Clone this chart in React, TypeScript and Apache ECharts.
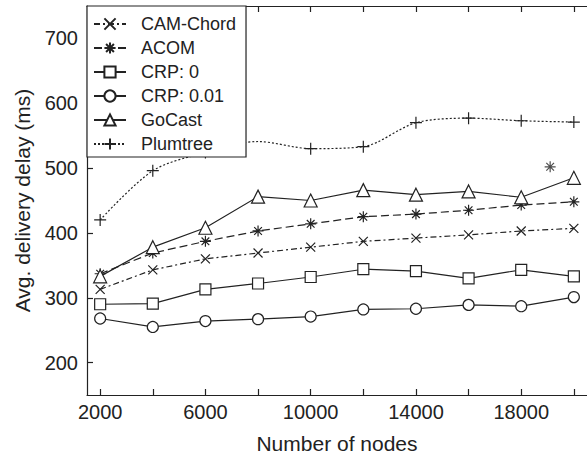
import React, { useEffect, useRef } from "react";
import * as echarts from "echarts";

const nodes = [2000, 4000, 6000, 8000, 10000, 12000, 14000, 16000, 18000, 20000];
const camChord = [313, 343, 360, 369, 378, 387, 392, 397, 403, 407];
const acom = [337, 369, 387, 403, 414, 425, 429, 435, 443, 448];
const crp0 = [290, 291, 313, 322, 332, 344, 341, 330, 343, 333];
const crp001 = [268, 255, 264, 267, 271, 282, 283, 289, 287, 301];
const goCast = [333, 378, 408, 456, 450, 466, 459, 464, 455, 485];
const plumtree = [420, 496, 524, 541, 530, 533, 570, 577, 573, 571];
const plumtreeMarked = [true, true, true, false, true, true, true, true, true, true];
const acomStrayX = [19100];
const acomStrayY = [502];

const xTicks = [2000, 4000, 6000, 8000, 10000, 12000, 14000, 16000, 18000, 20000];
const xLabels = [2000, 6000, 10000, 14000, 18000];
const yLabels = [200, 300, 400, 500, 600, 700];

const INK = "#222";
const FONT = "'Liberation Sans', Arial, Helvetica, sans-serif";

const SYM_X = "path://M0,0L10,10M10,0L0,10";
const SYM_STAR = "path://M5,0L5,10M0,5L10,5M1.5,1.5L8.5,8.5M8.5,1.5L1.5,8.5";
const SYM_PLUS = "path://M5,0L5,10M0,5L10,5";

function pairs(ys: number[]) {
  return nodes.map((x, i) => [x, ys[i]]);
}

export default function App() {
  const ref = useRef<HTMLDivElement>(null);
  useEffect(() => {
    document.body.style.margin = "0";
    if (!ref.current) return;
    const chart = echarts.init(ref.current, null, { renderer: "svg" });

    const base = (name: string, ys: number[], symbol: string, size: number, dash: any) => ({
      name,
      type: "line",
      xAxisIndex: 0,
      yAxisIndex: 0,
      data: pairs(ys),
      symbol,
      symbolSize: size,
      showAllSymbol: true,
      color: INK,
      lineStyle: { color: INK, width: 1.2, type: dash },
      itemStyle: { color: "#fff", borderColor: INK, borderWidth: 1.2 },
      emphasis: { disabled: true },
      z: 2,
    });

    const plumData = nodes.map((x, i) =>
      plumtreeMarked[i] ? [x, plumtree[i]] : { value: [x, plumtree[i]], symbol: "none" }
    );

    const xAxisCommon = {
      type: "value",
      min: 1500,
      max: 20500,
      splitLine: { show: false },
      axisLine: { show: true, lineStyle: { color: INK, width: 1.2 } },
      axisTick: {
        show: true,
        inside: true,
        length: 6,
        customValues: xTicks,
        lineStyle: { color: INK, width: 1.2 },
      },
    };

    chart.setOption({
      animation: false,
      backgroundColor: "#fff",
      textStyle: { fontFamily: FONT, color: INK },
      grid: { left: 87, top: 6, width: 506, height: 393, containLabel: false },
      legend: {
        data: ["CAM-Chord", "ACOM", "CRP: 0", "CRP: 0.01", "GoCast", "Plumtree"],
        orient: "vertical",
        left: 87,
        top: 6,
        padding: [8, 10, 3, 6],
        itemWidth: 32,
        itemHeight: 14,
        itemGap: 4,
        backgroundColor: "#fff",
        borderColor: INK,
        borderWidth: 1.2,
        borderRadius: 0,
        selectedMode: false,
        textStyle: {
          fontFamily: FONT,
          fontSize: 18,
          color: INK,
          lineHeight: 20,
          padding: [0, 0, 0, 10],
        },
        z: 10,
      },
      xAxis: [
        {
          ...xAxisCommon,
          position: "bottom",
          name: "Number of nodes",
          nameLocation: "middle",
          nameGap: 38,
          nameTextStyle: { fontFamily: FONT, fontSize: 21, color: INK },
          axisLabel: {
            show: true,
            customValues: xLabels,
            margin: 7,
            fontFamily: FONT,
            fontSize: 20,
            color: INK,
            formatter: (v: number) => String(v),
          },
        },
        {
          ...xAxisCommon,
          position: "top",
          axisLabel: { show: false },
        },
      ],
      yAxis: [
        {
          type: "value",
          min: 150,
          max: 750,
          position: "left",
          splitLine: { show: false },
          name: "Avg. delivery delay (ms)",
          nameLocation: "middle",
          nameGap: 54,
          nameTextStyle: { fontFamily: FONT, fontSize: 21, color: INK },
          axisLine: { show: true, lineStyle: { color: INK, width: 1.2 } },
          axisTick: {
            show: true,
            inside: true,
            length: 6,
            customValues: yLabels,
            lineStyle: { color: INK, width: 1.2 },
          },
          axisLabel: {
            show: true,
            customValues: yLabels,
            margin: 9,
            fontFamily: FONT,
            fontSize: 20,
            color: INK,
            formatter: (v: number) => String(v),
          },
        },
      ],
      series: [
        base("CAM-Chord", camChord, SYM_X, 9, [6, 3, 2, 3]),
        base("ACOM", acom, SYM_STAR, 11, [8, 4]),
        base("CRP: 0", crp0, "rect", 11, "solid"),
        base("CRP: 0.01", crp001, "circle", 11, "solid"),
        base("GoCast", goCast, "triangle", 13, "solid"),
        { ...base("Plumtree", plumtree, SYM_PLUS, 12, [2, 2]), data: plumData, smooth: 0.3 },
        {
          name: "acom-stray",
          type: "scatter",
          data: acomStrayX.map((x, i) => [x, acomStrayY[i]]),
          symbol: SYM_STAR,
          symbolSize: 11,
          itemStyle: { color: "#fff", borderColor: INK, borderWidth: 1.2 },
          emphasis: { disabled: true },
          z: 2,
        },
      ],
    });
    return () => chart.dispose();
  }, []);
  return <div ref={ref} style={{ width: 587, height: 459 }} />;
}
